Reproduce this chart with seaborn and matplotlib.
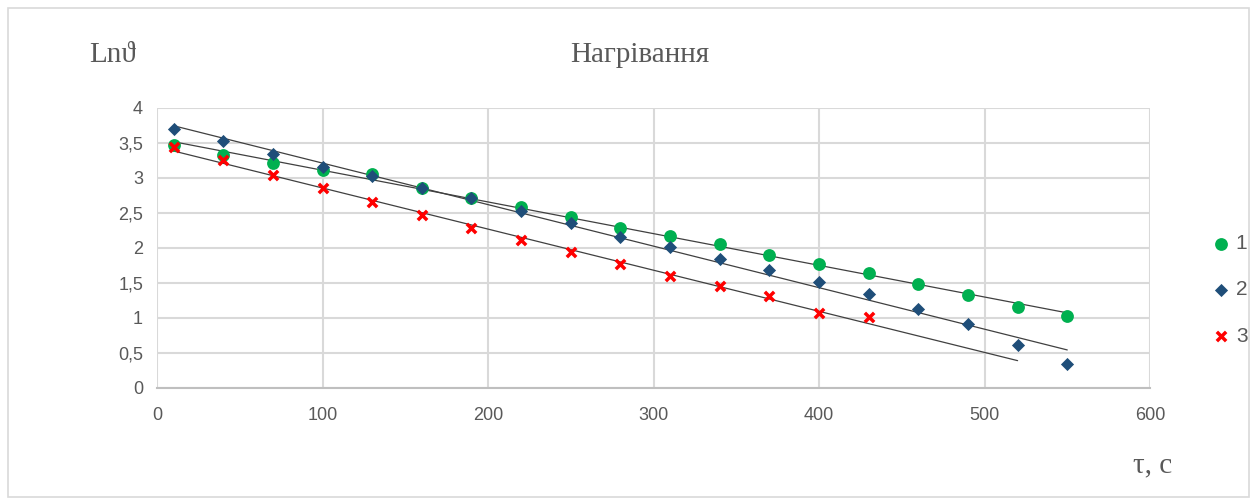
import numpy as np
import pandas as pd
import matplotlib
matplotlib.use("Agg")
import matplotlib.pyplot as plt
from matplotlib.patches import Rectangle
from matplotlib.ticker import FuncFormatter
import seaborn as sns

x1 = [10, 40, 70, 100, 130, 160, 190, 220, 250, 280, 310, 340, 370, 400, 430, 460, 490, 520, 550]
y1 = [3.47, 3.33, 3.21, 3.11, 3.06, 2.86, 2.71, 2.59, 2.44, 2.29, 2.17, 2.06, 1.90, 1.77, 1.64, 1.49, 1.33, 1.16, 1.03]
x2 = [10, 40, 70, 100, 130, 160, 190, 220, 250, 280, 310, 340, 370, 400, 430, 460, 490, 520, 550]
y2 = [3.70, 3.53, 3.34, 3.16, 3.03, 2.86, 2.71, 2.53, 2.36, 2.16, 2.01, 1.84, 1.69, 1.51, 1.34, 1.13, 0.91, 0.61, 0.34]
x3 = [10, 40, 70, 100, 130, 160, 190, 220, 250, 280, 310, 340, 370, 400, 430]
y3 = [3.44, 3.26, 3.04, 2.86, 2.66, 2.47, 2.29, 2.11, 1.94, 1.77, 1.60, 1.46, 1.31, 1.07, 1.01]
trend_x_end = [550, 550, 520]
series_names = ["1", "2", "3"]
x_ticks = [0, 100, 200, 300, 400, 500, 600]
y_ticks = [0, 0.5, 1, 1.5, 2, 2.5, 3, 3.5, 4]

sns.set_theme(style="white")
plt.rcParams['font.family'] = ['Liberation Sans Narrow', 'Liberation Sans', 'DejaVu Sans']

fig = plt.figure(figsize=(12.57, 5.0), dpi=100)
ax = fig.add_axes([157/1257, 1-388/500, (1150-157)/1257, (388-108)/500])

styles = [
    dict(color="#00B050", marker="o", s=85, lw=0),
    dict(color="#1F4E79", marker="D", s=45, lw=0),
    dict(color="#FF0000", marker="x", s=45, lw=2.5),
]
data = [(x1, y1), (x2, y2), (x3, y3)]

# linear trendlines (least squares), as in the Excel chart
for (xs, ys), xend in zip(data, trend_x_end):
    k, b = np.polyfit(xs, ys, 1)
    xx = np.array([xs[0], xend], dtype=float)
    sns.lineplot(x=xx, y=k * xx + b, ax=ax, color="#404040", lw=0.9, zorder=2)

for (xs, ys), name, st in zip(data, series_names, styles):
    df = pd.DataFrame({"t": xs, "v": ys})
    sns.scatterplot(data=df, x="t", y="v", ax=ax, color=st["color"], marker=st["marker"],
                    s=st["s"], linewidth=st["lw"],
                    edgecolor=st["color"] if st["marker"] != "x" else None,
                    label=name, zorder=3)

ax.set_xlim(0, 600)
ax.set_ylim(0, 4)
ax.set_xticks(x_ticks)
ax.set_yticks(y_ticks)
ax.yaxis.set_major_formatter(FuncFormatter(lambda v, p: (f"{v:g}").replace(".", ",")))
ax.grid(True, color="#d9d9d9", lw=1.5)
ax.set_axisbelow(True)
for s in ["top", "right", "left"]:
    ax.spines[s].set_visible(False)
ax.spines["bottom"].set_color("#bfbfbf")
ax.spines["bottom"].set_linewidth(1.5)
ax.tick_params(axis="both", colors="#595959", labelsize=13, length=0, pad=10)
ax.tick_params(axis="x", pad=14)
ax.set_xlabel("")
ax.set_ylabel("")

h, l = ax.get_legend_handles_labels()
ax.get_legend().remove()
leg = fig.legend(h, l, loc="center left", bbox_to_anchor=(1190/1257, 1-290/500), frameon=False,
                 fontsize=15, labelspacing=1.3, handletextpad=0.1, handlelength=1.2)
for t in leg.get_texts():
    t.set_color("#595959")

serif = ['Liberation Serif', 'DejaVu Serif']
fig.text(640/1257, 1-55/500, "Нагрівання", ha="center", va="center", fontsize=21,
         color="#595959", family=serif)
fig.text(89/1257, 1-55/500, "Lnϑ", ha="left", va="center", fontsize=21,
         color="#595959", family=serif)
fig.text(1153/1257, 1-465/500, "τ, с", ha="center", va="center", fontsize=21,
         color="#595959", family=serif)

fig.patches.append(Rectangle((8/1257, 3/500), 1241/1257, 489/500, transform=fig.transFigure,
                             fill=False, edgecolor="#d9d9d9", lw=1.2))

fig.savefig("out.png", dpi=100)
